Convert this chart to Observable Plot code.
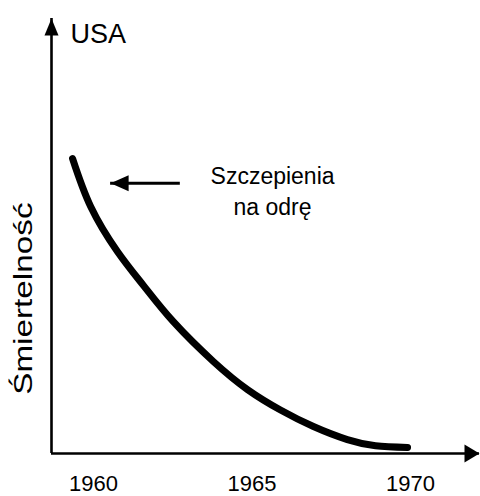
<!DOCTYPE html>
<html>
<head>
<meta charset="utf-8">
<script src="https://cdn.jsdelivr.net/npm/d3@7"></script>
<script src="https://cdn.jsdelivr.net/npm/@observablehq/plot@0.6"></script>
<style>
  html, body { margin: 0; padding: 0; background: #fff; }
  #chart svg { display: block; }
</style>
</head>
<body>
<div id="chart"></div>
<script>
// --- data (arbitrary mortality units, 0..100) ---
const years     = [1959.34, 1959.91, 1960.76, 1961.58, 1962.52, 1963.79, 1964.86, 1965.90, 1966.94, 1968.01, 1968.90, 1969.91];
const mortality = [67.8,    56.8,    46.4,    38.6,    30.3,    21.1,    14.7,    10.0,    6.2,     3.2,     1.8,     1.4];
const tickYears = [1960, 1965, 1970];
const xExtent   = [1958.675, 1972.18];
const yExtent   = [0, 100];
const title     = ["USA"];
const yLabel    = ["Śmiertelność"];
const noteText  = ["Szczepienia\nna odrę"];
const noteArrowFrom = [1962.74];  // year where the annotation arrow starts
const noteArrowTo   = [1960.54];  // year the annotation arrow points to
const noteLevel     = [62.1];     // mortality level of the annotation arrow
const noteTextAt    = [{year: 1965.65, level: 60.7}];
const yLabelLevel   = [35.6];

const font = "'Liberation Sans', Arial, Helvetica, sans-serif";

const series = years.map((y, i) => ({year: y, value: mortality[i]}));

// filled arrow head (tip at origin, pointing up)
const headShape = (w, l) => ({
  draw(ctx) {
    ctx.moveTo(0, 0);
    ctx.lineTo(-w / 2, l);
    ctx.lineTo(w / 2, l);
    ctx.closePath();
  }
});

const chart = Plot.plot({
  width: 480,
  height: 496,
  marginLeft: 51,
  marginRight: 1,
  marginTop: 18,
  marginBottom: 43,
  style: {fontFamily: font, color: "#000", background: "#fff"},
  x: {domain: xExtent, axis: null},
  y: {domain: yExtent, axis: null},
  marks: [
    // axes lines
    Plot.ruleX([xExtent[0]], {y1: yExtent[0], y2: yExtent[1], stroke: "#000", strokeWidth: 2.6}),
    Plot.ruleY([yExtent[0]], {x1: xExtent[0], x2: xExtent[1], stroke: "#000", strokeWidth: 2.6}),
    // axis arrow heads
    Plot.dot([{x: xExtent[0], y: yExtent[1]}], {x: "x", y: "y", symbol: headShape(14, 17), fill: "#000", stroke: null}),
    Plot.dot([{x: xExtent[1], y: yExtent[0]}], {x: "x", y: "y", symbol: headShape(18, 15), rotate: 90, fill: "#000", stroke: null}),
    // tick labels
    Plot.axisX(tickYears, {tickSize: 0, tickPadding: 22, fontSize: 22, tickFormat: d => String(d), fill: "#000"}),
    // title
    Plot.text(title, {frameAnchor: "top-left", dx: 19, dy: 5, textAnchor: "start", lineAnchor: "top", fontSize: 27, fill: "#000"}),
    // y label
    Plot.text(yLabel, {x: xExtent[0], y: () => yLabelLevel[0], dx: -28, rotate: -90, textAnchor: "middle", lineAnchor: "middle",
      fontSize: 26, fill: "#000", className: "ylab"}),
    // the curve
    Plot.line(series, {x: "year", y: "value", curve: "natural", stroke: "#000", strokeWidth: 7, strokeLinecap: "round", strokeLinejoin: "round"}),
    // annotation arrow
    Plot.ruleY(noteLevel, {x1: noteArrowFrom[0], x2: noteArrowTo[0], stroke: "#000", strokeWidth: 3}),
    Plot.dot(noteLevel.map(v => ({x: noteArrowTo[0], y: v})), {x: "x", y: "y", symbol: headShape(16, 18), rotate: -90, fill: "#000", stroke: null}),
    // annotation text
    Plot.text(noteText, {x: () => noteTextAt[0].year, y: () => noteTextAt[0].level, textAnchor: "middle", lineAnchor: "middle", lineHeight: 1.38, fontSize: 23, fill: "#000"})
  ]
});

// the reference's y label is drawn in a stretched face: stretch it along its own direction
chart.querySelectorAll(".ylab text").forEach(t => {
  const tr = t.getAttribute("transform") || "";
  t.setAttribute("transform", tr + " scale(1.28,1)");
});

document.getElementById("chart").appendChild(chart);
</script>
</body>
</html>
